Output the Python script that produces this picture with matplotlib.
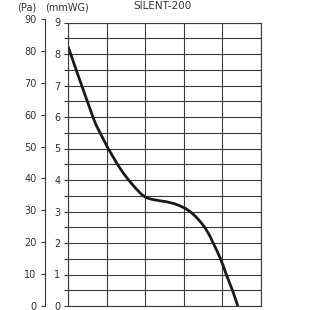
import matplotlib.pyplot as plt
import numpy as np

# Data (x in grid columns, pressure in mmWG)
flow = [0.0, 0.07, 0.21, 0.355, 0.50, 0.645, 0.73, 0.83, 0.93, 1.04,
        1.16, 1.28, 1.42, 1.57, 1.75, 1.90, 2.0, 2.1, 2.2, 2.38, 2.55,
        2.75, 2.9, 3.05, 3.18, 3.3, 3.42, 3.54, 3.66, 3.76, 3.86, 3.95,
        4.03, 4.10, 4.18, 4.26, 4.33, 4.40]
mmwg = [8.24, 8.0, 7.5, 7.0, 6.5, 6.0, 5.74, 5.5, 5.26, 5.0,
        4.75, 4.5, 4.24, 4.0, 3.74, 3.55, 3.46, 3.41, 3.38, 3.34, 3.31,
        3.25, 3.18, 3.09, 2.98, 2.85, 2.69, 2.5, 2.26, 2.0, 1.75, 1.5,
        1.25, 1.0, 0.75, 0.5, 0.25, 0.0]
mmwg_ticks = np.arange(0, 9.5, 0.5)
mmwg_labels = [str(int(t)) if t == int(t) else '' for t in mmwg_ticks]
pa_ticks = list(range(0, 100, 10))
title = 'SILENT-200'

grid_color = '#3a3a3a'
text_color = '#333333'

fig = plt.figure(figsize=(3.1, 3.1), dpi=100)
W = H = 310.0

# main grid axes
ax = fig.add_axes([68 / W, (H - 306) / H, 193 / W, 283.5 / H])
ax.set_xlim(0, 5)
ax.set_ylim(0, 9)
ax.set_xticks(range(6))
ax.set_yticks(mmwg_ticks)
ax.set_yticklabels(mmwg_labels)
ax.grid(True, color=grid_color, linewidth=0.8)
ax.tick_params(axis='x', length=0, labelbottom=False)
ax.tick_params(axis='y', length=3, width=0.8, color=grid_color,
               labelsize=7, labelcolor=text_color, pad=2.5)
for s in ax.spines.values():
    s.set_color(grid_color)
    s.set_linewidth(0.8)
ax.plot(flow, mmwg, color='#1a1a1a', linewidth=2.0,
        solid_capstyle='butt', solid_joinstyle='round')

# Pa axis
ax_pa = fig.add_axes([45.5 / W, (H - 306) / H, 0.001, 287 / H])
ax_pa.set_ylim(0, 90)
ax_pa.set_yticks(pa_ticks)
ax_pa.set_xticks([])
for k in ['top', 'right', 'bottom']:
    ax_pa.spines[k].set_visible(False)
ax_pa.spines['left'].set_color(grid_color)
ax_pa.spines['left'].set_linewidth(0.8)
ax_pa.patch.set_visible(False)
ax_pa.tick_params(axis='y', length=3, width=0.8, color=grid_color,
                  labelsize=7, labelcolor=text_color, pad=3.5)

fig.text(27 / W, 1 - 7 / H, '(Pa)', ha='center', va='center',
         fontsize=7, color=text_color)
fig.text(67 / W, 1 - 7 / H, '(mmWG)', ha='center', va='center',
         fontsize=7, color=text_color)
fig.text(163 / W, 1 - 6 / H, title, ha='center', va='center',
         fontsize=7.5, color=text_color)

plt.savefig('out.png', dpi=100)
